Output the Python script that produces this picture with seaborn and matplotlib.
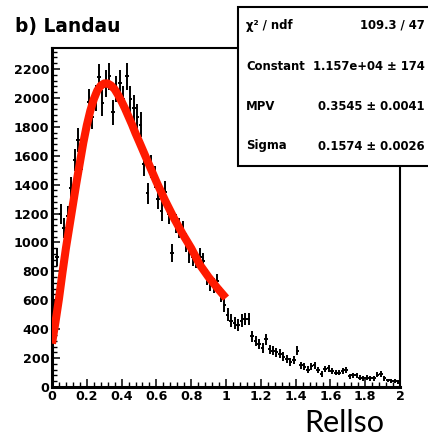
import numpy as np
import matplotlib
matplotlib.use("Agg")
import matplotlib.pyplot as plt
from matplotlib.ticker import MultipleLocator, FuncFormatter
from matplotlib.patches import Rectangle
import seaborn as sns

# ---------------- data ----------------
bin_width = 0.02
bin_centers = [round(0.01 + 0.02 * i, 2) for i in range(100)]
counts = [
    560, 900, 1200, 1100, 1180, 1380, 1570, 1710, 1580, 1750,
    1970, 1870, 2000, 2145, 1965, 2100, 2150, 1900, 2060, 2100,
    1990, 2150, 1990, 1930, 1870, 1815, 1540, 1340, 1525, 1450,
    1300, 1215, 1350, 1200, 925, 1130, 1100, 1080, 1000, 920,
    900, 880, 900, 870, 760, 720, 700, 730, 640, 570,
    500, 460, 440, 430, 460, 470, 470, 350, 320, 300,
    270, 330, 260, 250, 240, 230, 210, 195, 175, 185,
    250, 150, 140, 120, 145, 150, 115, 90, 125, 130,
    110, 100, 100, 110, 115, 75, 80, 80, 65, 60,
    65, 60, 60, 85, 90, 60, 45, 40, 40, 35,
]
err_scale = 2.0  # error bars drawn as err_scale * sqrt(N)

fit_x = [0.00, 0.02, 0.04, 0.06, 0.08, 0.10, 0.12, 0.14, 0.16, 0.18,
         0.20, 0.22, 0.24, 0.26, 0.28, 0.30, 0.32, 0.34, 0.36, 0.38,
         0.40, 0.42, 0.44, 0.46, 0.48, 0.50, 0.55, 0.60, 0.65, 0.70,
         0.75, 0.80, 0.85, 0.90, 0.95, 1.00]
fit_y = [300, 450, 610, 790, 960, 1110, 1260, 1410, 1550, 1690,
         1810, 1910, 1990, 2050, 2085, 2100, 2100, 2085, 2060, 2020,
         1975, 1925, 1870, 1815, 1755, 1700, 1560, 1420, 1290, 1170,
         1060, 960, 845, 760, 685, 615]

title = "b) Landau"
stat_labels = ["χ² / ndf", "Constant", "MPV", "Sigma"]
stat_values = ["109.3 / 47", "1.157e+04 ± 174", "0.3545 ± 0.0041", "0.1574 ± 0.0026"]
xlabel_text = "Rellso"

# ---------------- style ----------------
sns.set_theme(style="white")
plt.rcParams["font.family"] = ["DejaVu Sans"]

W, H = 428, 436
fig = plt.figure(figsize=(W / 100, H / 100), dpi=100)
ax = fig.add_axes([52 / W, (H - 387) / H, (400 - 52) / W, (387 - 48) / H])

cnt = np.array(counts, dtype=float)
ax.errorbar(bin_centers, counts, xerr=bin_width / 2, yerr=err_scale * np.sqrt(cnt),
            fmt="none", ecolor="black", elinewidth=1.4, capsize=0, zorder=2)

sns.lineplot(x=fit_x, y=fit_y, ax=ax, color="#ff1a00", linewidth=5.8,
             solid_capstyle="butt", zorder=3, legend=False)

ax.set_xlim(0, 2)
ax.set_ylim(0, 2345)
ax.xaxis.set_major_locator(MultipleLocator(0.2))
ax.xaxis.set_minor_locator(MultipleLocator(0.04))
ax.yaxis.set_major_locator(MultipleLocator(200))
ax.yaxis.set_minor_locator(MultipleLocator(40))
ax.xaxis.set_major_formatter(FuncFormatter(lambda v, p: f"{v:g}"))
ax.yaxis.set_major_formatter(FuncFormatter(lambda v, p: f"{v:g}"))
ax.tick_params(axis="both", which="both", direction="in", top=False, right=False,
               bottom=True, left=True, color="black")
ax.tick_params(axis="both", which="major", length=6, width=1.1, labelsize=9.2, pad=2)
ax.tick_params(axis="both", which="minor", length=3.5, width=1.0)
for lab in ax.get_xticklabels() + ax.get_yticklabels():
    lab.set_fontweight("bold")
    lab.set_color("black")
ax.set_xlabel("")
ax.set_ylabel("")

for side in ["left", "bottom"]:
    ax.spines[side].set_linewidth(2.2)
    ax.spines[side].set_color("black")
for side in ["top", "right"]:
    ax.spines[side].set_linewidth(1.5)
    ax.spines[side].set_color("black")

# title
fig.text(15 / W, (H - 32) / H, title, ha="left", va="baseline",
         fontsize=13.4, fontweight="bold", color="black")

# stats box
box = Rectangle((238 / W, (H - 166) / H), 1.02 - 238 / W, (166 - 7) / H,
                transform=fig.transFigure, facecolor="white", edgecolor="black",
                linewidth=1.5, zorder=10)
fig.add_artist(box)
row_y = [25, 67, 107, 146]
for lab, val, ry in zip(stat_labels, stat_values, row_y):
    fig.text(246 / W, (H - ry) / H, lab, ha="left", va="center",
             fontsize=8.4, fontweight="bold", color="black", zorder=11)
    fig.text(425 / W, (H - ry) / H, val, ha="right", va="center",
             fontsize=8.4, fontweight="bold", color="black", zorder=11)

# axis title
fig.text(304 / W, (H - 432) / H, xlabel_text, ha="left", va="baseline",
         fontsize=22, family=["Lato", "DejaVu Sans"], color="black")

fig.savefig("out.png", dpi=100)
